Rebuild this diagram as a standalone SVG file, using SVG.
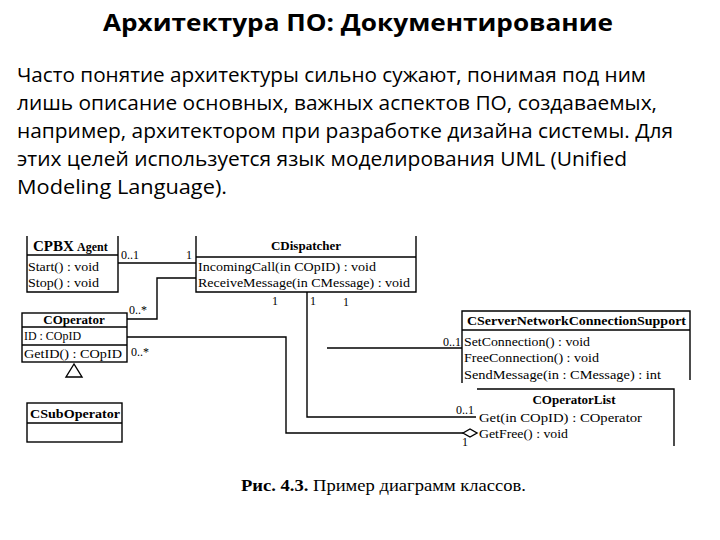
<svg xmlns="http://www.w3.org/2000/svg" width="720" height="540" viewBox="0 0 720 540">
<style>
.h{font-family:"Open Sans","Noto Sans",sans-serif;font-weight:bold;font-size:24px;fill:#000}
.b{font-family:"Open Sans","Noto Sans",sans-serif;font-size:20px;fill:#000}
.u{font-family:"Liberation Serif","DejaVu Serif",serif;font-size:13.5px;fill:#000}
.ub{font-family:"Liberation Serif","DejaVu Serif",serif;font-size:13px;font-weight:bold;fill:#000}
.lb{font-family:"Liberation Serif","DejaVu Serif",serif;font-size:12px;fill:#000}
.box{fill:none;stroke:#000;stroke-width:1.4}
.ln{fill:none;stroke:#000;stroke-width:1.4}
.cap{font-family:"Liberation Serif","DejaVu Serif",serif;font-size:17px;fill:#000}
</style>
<rect width="720" height="540" fill="#fff"/>
<g id="header">
<text class="h" x="103" y="31" textLength="510" lengthAdjust="spacingAndGlyphs">Архитектура ПО: Документирование</text>
<text class="b" x="17" y="82" textLength="629" lengthAdjust="spacingAndGlyphs">Часто понятие архитектуры сильно сужают, понимая под ним</text>
<text class="b" x="17" y="110" textLength="640" lengthAdjust="spacingAndGlyphs">лишь описание основных, важных аспектов ПО, создаваемых,</text>
<text class="b" x="17" y="138" textLength="656" lengthAdjust="spacingAndGlyphs">например, архитектором при разработке дизайна системы. Для</text>
<text class="b" x="17" y="166" textLength="610" lengthAdjust="spacingAndGlyphs">этих целей используется язык моделирования UML (Unified</text>
<text class="b" x="17" y="194" textLength="210" lengthAdjust="spacingAndGlyphs">Modeling Language).</text>
</g>
<g id="connectors">
<line class="ln" x1="118" y1="263" x2="196" y2="263"/>
<polyline class="ln" points="127,319 157,319 157,278 196,278"/>
<polyline class="ln" points="127,337 286,337 286,433 463,433"/>
<polygon class="ln" fill="#fff" points="463,433 470,429 477,433 470,437"/>
<polyline class="ln" points="307,292 307,417 476,417"/>
<line class="ln" x1="327" y1="348" x2="462" y2="348"/>
<text class="lb" x="121" y="259">0..1</text>
<text class="lb" x="186" y="259">1</text>
<text class="lb" x="129" y="314">0..*</text>
<text class="lb" x="131" y="356">0..*</text>
<text class="lb" x="272" y="305">1</text>
<text class="lb" x="310" y="305">1</text>
<text class="lb" x="343" y="306">1</text>
<text class="lb" x="443" y="346">0..1</text>
<text class="lb" x="456" y="414">0..1</text>
<text class="lb" x="462" y="446">1</text>
</g>
<g id="cpbx">
<path class="box" d="M27,236 V292 H118 V236 M27,255 H118"/>
<text class="ub" x="33" y="251" style="font-size:15px">CPBX</text>
<text class="ub" x="77" y="251" style="font-size:12px">Agent</text>
<text class="u" x="28" y="271" textLength="71" lengthAdjust="spacingAndGlyphs">Start() : void</text>
<text class="u" x="28" y="287" textLength="71" lengthAdjust="spacingAndGlyphs">Stop() : void</text>
</g>
<g id="cdispatcher">
<path class="box" d="M196,236 V292 H416 V236 M196,257 H416"/>
<text class="ub" x="306" y="250" text-anchor="middle">CDispatcher</text>
<text class="u" x="198" y="271" textLength="178" lengthAdjust="spacingAndGlyphs">IncomingCall(in COpID) : void</text>
<text class="u" x="198" y="287" textLength="212" lengthAdjust="spacingAndGlyphs">ReceiveMessage(in CMessage) : void</text>
</g>
<g id="coperator">
<rect class="box" x="22" y="313" width="105" height="49"/>
<line class="box" x1="22" y1="327" x2="127" y2="327"/>
<line class="box" x1="22" y1="345" x2="127" y2="345"/>
<text class="ub" x="74" y="324" text-anchor="middle">COperator</text>
<text class="u" x="24" y="340" textLength="57" lengthAdjust="spacingAndGlyphs">ID : COpID</text>
<text class="u" x="24" y="358" textLength="98" lengthAdjust="spacingAndGlyphs">GetID() : COpID</text>
<polygon class="box" fill="#fff" points="74,364 66,377 82,377"/>
</g>
<g id="csuboperator">
<rect class="box" x="27" y="403" width="95" height="39"/>
<line class="box" x1="27" y1="423" x2="122" y2="423"/>
<text class="ub" x="75" y="418" text-anchor="middle" textLength="90" lengthAdjust="spacingAndGlyphs">CSubOperator</text>
</g>
<g id="cserver">
<path class="box" d="M462,383 V311 H690 V380 M462,330 H690"/>
<text class="ub" x="467" y="325" textLength="219" lengthAdjust="spacingAndGlyphs">CServerNetworkConnectionSupport</text>
<text class="u" x="464" y="346" textLength="126" lengthAdjust="spacingAndGlyphs">SetConnection() : void</text>
<text class="u" x="464" y="362" textLength="135" lengthAdjust="spacingAndGlyphs">FreeConnection() : void</text>
<text class="u" x="464" y="379" textLength="197" lengthAdjust="spacingAndGlyphs">SendMessage(in  : CMessage) : int</text>
</g>
<g id="coperatorlist">
<path class="box" d="M477,389 H674 V446"/>
<text class="ub" x="574" y="404" text-anchor="middle">COperatorList</text>
<text class="u" x="479" y="422" textLength="163" lengthAdjust="spacingAndGlyphs">Get(in COpID) : COperator</text>
<text class="u" x="479" y="438" textLength="89" lengthAdjust="spacingAndGlyphs">GetFree() : void</text>
</g>
<g id="caption">
<text class="cap" x="241" y="491" textLength="285" lengthAdjust="spacingAndGlyphs"><tspan font-weight="bold">Рис. 4.3.</tspan> Пример диаграмм классов.</text>
</g>
</svg>
